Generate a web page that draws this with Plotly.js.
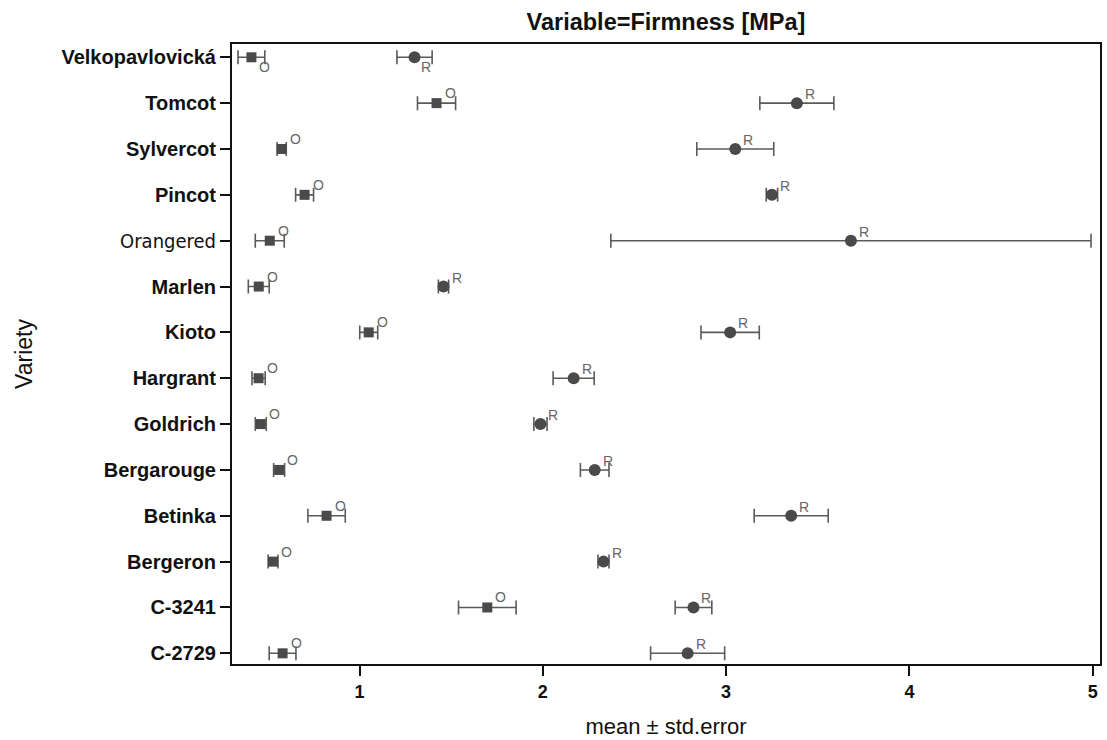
<!DOCTYPE html>
<html>
<head>
<meta charset="utf-8">
<script src="https://cdn.plot.ly/plotly-3.0.1.min.js"></script>
<style>html,body{margin:0;padding:0;background:#fff;}#chart{width:1107px;height:740px;}</style>
</head>
<body>
<div id="chart"></div>
<script>
// Varieties, top to bottom
const varieties = ["Velkopavlovická","Tomcot","Sylvercot","Pincot","Orangered","Marlen","Kioto","Hargrant","Goldrich","Bergarouge","Betinka","Bergeron","C-3241","C-2729"];
const tickLabels = ["<b>Velkopavlovická</b>","<b>Tomcot</b>","<b>Sylvercot</b>","<b>Pincot</b>","<span style=\"font-family:'Liberation Sans Narrow','DejaVu Sans Condensed',sans-serif\">Orangered</span>","<b>Marlen</b>","<b>Kioto</b>","<b>Hargrant</b>","<b>Goldrich</b>","<b>Bergarouge</b>","<b>Betinka</b>","<b>Bergeron</b>","<b>C-3241</b>","<b>C-2729</b>"];

// Firmness [MPa], group "O"
const meanO = [0.41, 1.42, 0.575, 0.70, 0.51, 0.45, 1.05, 0.449, 0.461, 0.561, 0.82, 0.528, 1.697, 0.58];
const seO   = [0.073, 0.104, 0.025, 0.049, 0.079, 0.057, 0.049, 0.036, 0.030, 0.030, 0.102, 0.027, 0.157, 0.073];
// Firmness [MPa], group "R"
const meanR = [1.30, 3.386, 3.05, 3.25, 3.681, 1.458, 3.022, 2.168, 1.987, 2.283, 3.355, 2.331, 2.822, 2.79];
const seR   = [0.096, 0.202, 0.21, 0.031, 1.31, 0.028, 0.159, 0.112, 0.036, 0.078, 0.202, 0.030, 0.100, 0.202];

const groupO = "O";
const groupR = "R";

const errStyle = {type: "data", visible: true, color: "#5a5a5a", thickness: 1.6, width: 7};
const txtFont = {family: "Liberation Sans, Arial, sans-serif", size: 14, color: "#666666"};

const traces = [
  {
    type: "scatter", mode: "markers", name: groupO,
    x: meanO, y: varieties,
    error_x: Object.assign({array: seO}, errStyle),
    marker: {symbol: "square", size: 10, color: "#4a4a4a"},
    cliponaxis: false, hoverinfo: "x+y"
  },
  {
    type: "scatter", mode: "markers", name: groupR,
    x: meanR, y: varieties,
    error_x: Object.assign({array: seR}, errStyle),
    marker: {symbol: "circle", size: 12, color: "#4a4a4a"},
    cliponaxis: false, hoverinfo: "x+y"
  }
];

// group letters next to each marker
const annotations = [];
varieties.forEach((v, i) => {
  const below = (i === 0);
  annotations.push({
    x: meanO[i], y: v, xref: "x", yref: "y", text: groupO, showarrow: false,
    xanchor: "left", yanchor: "middle", xshift: 6, yshift: below ? -10 : 10,
    font: txtFont
  });
  annotations.push({
    x: meanR[i], y: v, xref: "x", yref: "y", text: groupR, showarrow: false,
    xanchor: "left", yanchor: "middle", xshift: below ? 4 : 6, yshift: below ? -10 : 9,
    font: txtFont
  });
});

const layout = {
  width: 1107, height: 740,
  margin: {l: 232, r: 7, t: 44, b: 76},
  paper_bgcolor: "#ffffff", plot_bgcolor: "#ffffff",
  showlegend: false,
  font: {family: "Liberation Sans, Arial, sans-serif", color: "#111"},
  title: {
    text: "<b>Variable=Firmness [MPa]</b>",
    font: {family: "Liberation Sans, Arial, sans-serif", size: 23.5, color: "#111"},
    x: 0.5, xref: "paper", xanchor: "center",
    y: 1 - 22/740, yref: "container", yanchor: "middle"
  },
  annotations: annotations,
  xaxis: {
    range: [0.304, 5.04],
    tickmode: "array", tickvals: [1, 2, 3, 4, 5], ticktext: ["<b>1</b>","<b>2</b>","<b>3</b>","<b>4</b>","<b>5</b>"],
    ticks: "outside", ticklen: 10, tickwidth: 2, tickcolor: "#111",
    tickfont: {size: 18, color: "#111"},
    showline: true, linewidth: 2, linecolor: "#111", mirror: true,
    showgrid: false, zeroline: false, automargin: false,
    title: {text: "mean ± std.error", font: {size: 22, color: "#111"}, standoff: 18}
  },
  yaxis: {
    type: "category",
    range: [13.233, -0.29],
    tickmode: "array", tickvals: varieties, ticktext: tickLabels,
    ticks: "outside", ticklen: 10, tickwidth: 2, tickcolor: "#111",
    tickfont: {size: 20, color: "#111"},
    showline: true, linewidth: 2, linecolor: "#111", mirror: true,
    showgrid: false, zeroline: false, automargin: false,
    title: {text: "Variety", font: {size: 23, color: "#111"}, standoff: 22}
  }
};

Plotly.newPlot("chart", traces, layout, {staticPlot: true, displayModeBar: false});
</script>
</body>
</html>
